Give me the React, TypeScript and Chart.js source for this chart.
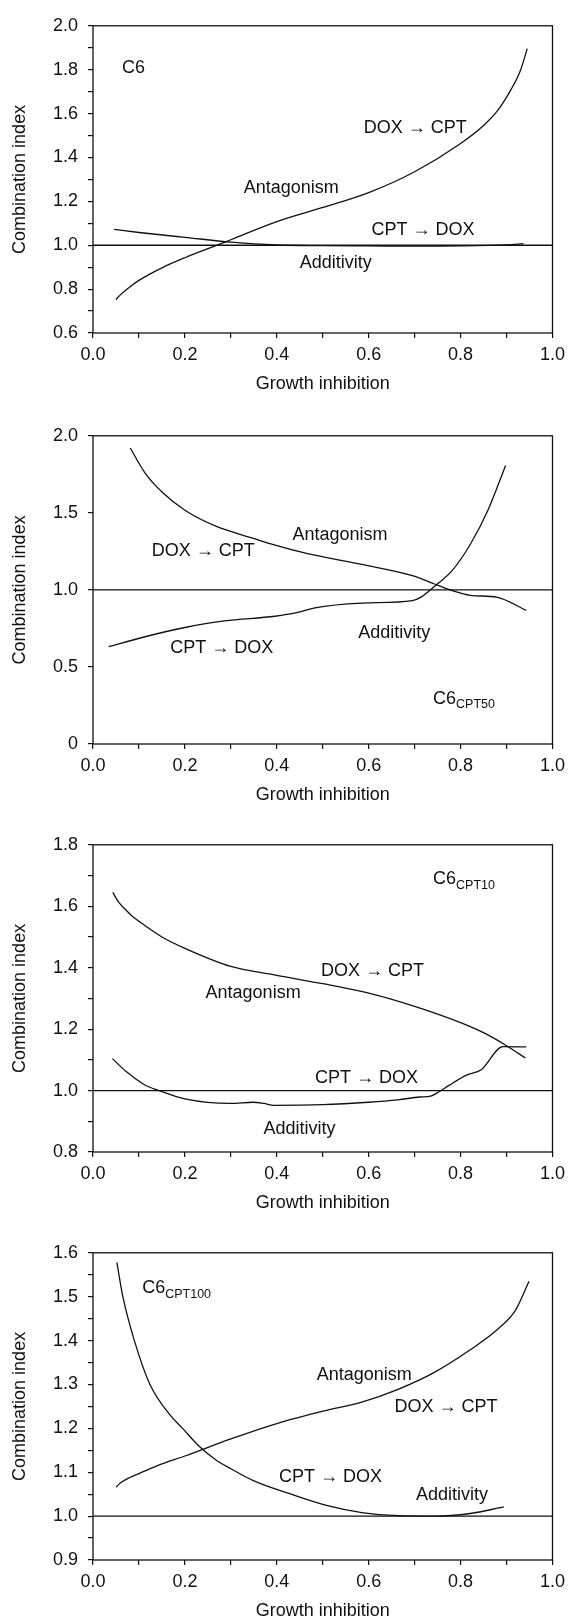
import React, { useEffect, useRef } from "react";
import { Chart, registerables } from "chart.js";

Chart.register(...registerables);

// ---------- shared axis data ----------
const X_TICK_LABELS = ["0.0", "0.2", "0.4", "0.6", "0.8", "1.0"];
const X_MIN = 0;
const X_MAX = 1;
const X_MINOR_STEP = 0.1;
const ADDITIVITY_X = [0, 1];
const ADDITIVITY_Y = 1;

// ---------- panel 1 : C6 ----------
const P1_Y_TICK_LABELS = ["0.6", "0.8", "1.0", "1.2", "1.4", "1.6", "1.8", "2.0"];
const P1_DOX_CPT_X = [0.05, 0.06, 0.08, 0.1, 0.15, 0.2, 0.27, 0.3, 0.4, 0.5, 0.6, 0.7, 0.8, 0.85, 0.88, 0.91, 0.93, 0.945];
const P1_DOX_CPT_Y = [0.753, 0.775, 0.81, 0.84, 0.897, 0.943, 1.0, 1.025, 1.108, 1.172, 1.24, 1.335, 1.464, 1.546, 1.612, 1.71, 1.795, 1.896];
const P1_CPT_DOX_X = [0.046, 0.1, 0.2, 0.3, 0.4, 0.5, 0.6, 0.7, 0.8, 0.9, 0.937];
const P1_CPT_DOX_Y = [1.072, 1.058, 1.036, 1.014, 1.001, 0.998, 0.997, 0.996, 0.997, 1.002, 1.007];

// ---------- panel 2 : C6 CPT50 ----------
const P2_Y_TICK_LABELS = ["0", "0.5", "1.0", "1.5", "2.0"];
const P2_DOX_CPT_X = [0.081, 0.113, 0.152, 0.2, 0.27, 0.349, 0.385, 0.467, 0.585, 0.695, 0.742, 0.782, 0.821, 0.88, 0.943];
const P2_DOX_CPT_Y = [1.921, 1.76, 1.63, 1.517, 1.41, 1.335, 1.3, 1.235, 1.165, 1.093, 1.04, 0.995, 0.965, 0.952, 0.867];
const P2_CPT_DOX_X = [0.034, 0.113, 0.2, 0.286, 0.396, 0.443, 0.483, 0.585, 0.695, 0.715, 0.73, 0.75, 0.78, 0.82, 0.86, 0.898];
const P2_CPT_DOX_Y = [0.632, 0.696, 0.756, 0.799, 0.829, 0.852, 0.884, 0.914, 0.931, 0.955, 0.99, 1.04, 1.12, 1.29, 1.52, 1.808];

// ---------- panel 3 : C6 CPT10 ----------
const P3_Y_TICK_LABELS = ["0.8", "1.0", "1.2", "1.4", "1.6", "1.8"];
const P3_DOX_CPT_X = [0.043, 0.055, 0.07, 0.085, 0.1, 0.15, 0.2, 0.3, 0.4, 0.5, 0.6, 0.7, 0.8, 0.853, 0.9, 0.941];
const P3_DOX_CPT_Y = [1.645, 1.615, 1.59, 1.568, 1.551, 1.5, 1.463, 1.404, 1.375, 1.348, 1.317, 1.274, 1.221, 1.186, 1.146, 1.106];
const P3_CPT_DOX_X = [0.042, 0.073, 0.113, 0.144, 0.2, 0.3, 0.349, 0.372, 0.394, 0.5, 0.6, 0.664, 0.711, 0.735, 0.754, 0.774, 0.813, 0.845, 0.892, 0.943];
const P3_CPT_DOX_Y = [1.104, 1.061, 1.018, 1.0, 0.973, 0.958, 0.962, 0.958, 0.952, 0.954, 0.962, 0.97, 0.979, 0.982, 0.997, 1.016, 1.05, 1.068, 1.143, 1.142];

// ---------- panel 4 : C6 CPT100 ----------
const P4_Y_TICK_LABELS = ["0.9", "1.0", "1.1", "1.2", "1.3", "1.4", "1.5", "1.6"];
const P4_DOX_CPT_X = [0.05, 0.06, 0.08, 0.1, 0.12, 0.15, 0.2, 0.3, 0.4, 0.5, 0.585, 0.664, 0.742, 0.821, 0.88, 0.92, 0.949];
const P4_DOX_CPT_Y = [1.066, 1.076, 1.088, 1.097, 1.106, 1.119, 1.137, 1.176, 1.211, 1.239, 1.26, 1.289, 1.327, 1.379, 1.425, 1.47, 1.535];
const P4_CPT_DOX_X = [0.052, 0.065, 0.09, 0.124, 0.168, 0.195, 0.231, 0.27, 0.3, 0.349, 0.428, 0.506, 0.585, 0.664, 0.743, 0.821, 0.894];
const P4_CPT_DOX_Y = [1.578, 1.5, 1.4, 1.3, 1.23, 1.2, 1.159, 1.126, 1.108, 1.081, 1.051, 1.025, 1.008, 1.001, 1.0, 1.006, 1.021];

// ---------- text ----------
const X_TITLE = "Growth inhibition";
const Y_TITLE = "Combination index";
const DOX_CPT = "DOX \u2192 CPT";
const CPT_DOX = "CPT \u2192 DOX";
const ANTAGONISM = "Antagonism";
const ADDITIVITY = "Additivity";

type Label = { text: string; sub?: string; x: number; y: number };

const P1_LABELS: Label[] = [
  { text: "C6", x: 0.063, y: 1.806 },
  { text: DOX_CPT, x: 0.589, y: 1.535 },
  { text: ANTAGONISM, x: 0.328, y: 1.26 },
  { text: CPT_DOX, x: 0.606, y: 1.069 },
  { text: ADDITIVITY, x: 0.45, y: 0.917 },
];
const P2_LABELS: Label[] = [
  { text: ANTAGONISM, x: 0.434, y: 1.357 },
  { text: DOX_CPT, x: 0.128, y: 1.255 },
  { text: ADDITIVITY, x: 0.577, y: 0.722 },
  { text: CPT_DOX, x: 0.168, y: 0.622 },
  { text: "C6", sub: "CPT50", x: 0.74, y: 0.292 },
];
const P3_LABELS: Label[] = [
  { text: "C6", sub: "CPT10", x: 0.74, y: 1.687 },
  { text: DOX_CPT, x: 0.496, y: 1.388 },
  { text: ANTAGONISM, x: 0.245, y: 1.319 },
  { text: CPT_DOX, x: 0.483, y: 1.042 },
  { text: ADDITIVITY, x: 0.371, y: 0.875 },
];
const P4_LABELS: Label[] = [
  { text: "C6", sub: "CPT100", x: 0.107, y: 1.519 },
  { text: ANTAGONISM, x: 0.487, y: 1.321 },
  { text: DOX_CPT, x: 0.656, y: 1.248 },
  { text: CPT_DOX, x: 0.405, y: 1.088 },
  { text: ADDITIVITY, x: 0.703, y: 1.049 },
];

// ---------- layout / style ----------
const PAGE_W = 571;
const PAGE_H = 1621;
const PLOT_LEFT = 93;
const PLOT_RIGHT = 556;
const PAD_TOP = 15;
const X_AXIS_H = 66;
const FONT_FAMILY = '"Liberation Sans", Arial, Helvetica, sans-serif';
const FONT_SIZE = 18;
const SUB_SIZE = 12.5;
const INK = "#111";

type PanelSpec = {
  plotTop: number;
  plotH: number;
  yMin: number;
  yMax: number;
  yStep: number;
  yLabels: string[];
  series: { x: number[]; y: number[] }[];
  labels: Label[];
};

const PANELS: PanelSpec[] = [
  {
    plotTop: 20, plotH: 313, yMin: 0.6, yMax: 2.0, yStep: 0.1, yLabels: P1_Y_TICK_LABELS,
    series: [{ x: P1_DOX_CPT_X, y: P1_DOX_CPT_Y }, { x: P1_CPT_DOX_X, y: P1_CPT_DOX_Y }],
    labels: P1_LABELS,
  },
  {
    plotTop: 430, plotH: 314, yMin: 0, yMax: 2.0, yStep: 0.5, yLabels: P2_Y_TICK_LABELS,
    series: [{ x: P2_DOX_CPT_X, y: P2_DOX_CPT_Y }, { x: P2_CPT_DOX_X, y: P2_CPT_DOX_Y }],
    labels: P2_LABELS,
  },
  {
    plotTop: 839, plotH: 313, yMin: 0.8, yMax: 1.8, yStep: 0.1, yLabels: P3_Y_TICK_LABELS,
    series: [{ x: P3_DOX_CPT_X, y: P3_DOX_CPT_Y }, { x: P3_CPT_DOX_X, y: P3_CPT_DOX_Y }],
    labels: P3_LABELS,
  },
  {
    plotTop: 1247, plotH: 313, yMin: 0.9, yMax: 1.6, yStep: 0.05, yLabels: P4_Y_TICK_LABELS,
    series: [{ x: P4_DOX_CPT_X, y: P4_DOX_CPT_Y }, { x: P4_CPT_DOX_X, y: P4_CPT_DOX_Y }],
    labels: P4_LABELS,
  },
];

function stepValues(min: number, max: number, step: number): number[] {
  const out: number[] = [];
  const n = Math.round((max - min) / step);
  for (let i = 0; i <= n; i++) out.push(Math.round((min + i * step) * 1e6) / 1e6);
  return out;
}

function labelFor(v: number, labels: string[]): string {
  const hit = labels.find((l) => Math.abs(parseFloat(l) - v) < 1e-6);
  return hit === undefined ? "" : hit;
}

const font = (size: number) => `${size}px ${FONT_FAMILY}`;

function Panel({ spec }: { spec: PanelSpec }) {
  const ref = useRef<HTMLCanvasElement | null>(null);
  const canvasTop = spec.plotTop - PAD_TOP;
  const canvasH = PAD_TOP + spec.plotH + X_AXIS_H;

  useEffect(() => {
    const canvas = ref.current;
    if (!canvas) return;

    const datasets: any[] = [
      {
        data: ADDITIVITY_X.map((x) => ({ x, y: ADDITIVITY_Y })),
        borderColor: INK,
        borderWidth: 1.3,
        pointRadius: 0,
        tension: 0,
      },
      ...spec.series.map((s) => ({
        data: s.x.map((x, i) => ({ x, y: s.y[i] })),
        borderColor: INK,
        borderWidth: 1.3,
        pointRadius: 0,
        cubicInterpolationMode: "monotone",
      })),
    ];

    const decor = {
      id: "decor",
      afterDatasetsDraw(chart: any) {
        const { ctx, chartArea, scales } = chart;
        const { left, right, top, bottom } = chartArea;
        ctx.save();
        ctx.strokeStyle = INK;
        ctx.lineWidth = 1.3;
        ctx.strokeRect(left, top, right - left, bottom - top);

        ctx.fillStyle = INK;
        ctx.textBaseline = "middle";
        for (const lab of spec.labels) {
          const px = scales.x.getPixelForValue(lab.x);
          const py = scales.y.getPixelForValue(lab.y);
          ctx.font = font(FONT_SIZE);
          ctx.textAlign = "left";
          ctx.fillText(lab.text, px, py);
          if (lab.sub) {
            const w = ctx.measureText(lab.text).width;
            ctx.font = font(SUB_SIZE);
            ctx.fillText(lab.sub, px + w, py + 6);
          }
        }

        ctx.font = font(FONT_SIZE);
        ctx.textAlign = "center";
        ctx.fillText(X_TITLE, (left + right) / 2, bottom + 51);

        ctx.translate(20, (top + bottom) / 2);
        ctx.rotate(-Math.PI / 2);
        ctx.fillText(Y_TITLE, 0, 0);
        ctx.restore();
      },
    };

    const chart = new Chart(canvas, {
      type: "line",
      data: { datasets },
      plugins: [decor],
      options: {
        animation: false,
        responsive: false,
        devicePixelRatio: 1,
        layout: { padding: { left: 0, right: PAGE_W - PLOT_RIGHT, top: PAD_TOP, bottom: 0 } },
        plugins: { legend: { display: false }, tooltip: { enabled: false }, title: { display: false } },
        scales: {
          x: {
            type: "linear",
            min: X_MIN,
            max: X_MAX,
            afterBuildTicks: (s: any) => {
              s.ticks = stepValues(X_MIN, X_MAX, X_MINOR_STEP).map((value) => ({ value }));
            },
            afterFit: (s: any) => {
              s.height = X_AXIS_H;
            },
            ticks: {
              autoSkip: false,
              maxRotation: 0,
              minRotation: 0,
              padding: 6,
              color: INK,
              font: { family: FONT_FAMILY, size: FONT_SIZE },
              callback: (v: any) => labelFor(Number(v), X_TICK_LABELS),
            },
            grid: { drawOnChartArea: false, drawTicks: true, tickLength: 5, color: INK, lineWidth: 1.2 },
            border: { display: false },
          },
          y: {
            type: "linear",
            min: spec.yMin,
            max: spec.yMax,
            afterBuildTicks: (s: any) => {
              s.ticks = stepValues(spec.yMin, spec.yMax, spec.yStep).map((value) => ({ value }));
            },
            afterFit: (s: any) => {
              s.width = PLOT_LEFT;
            },
            ticks: {
              autoSkip: false,
              padding: 10,
              color: INK,
              font: { family: FONT_FAMILY, size: FONT_SIZE },
              callback: (v: any) => labelFor(Number(v), spec.yLabels),
            },
            grid: { drawOnChartArea: false, drawTicks: true, tickLength: 5, color: INK, lineWidth: 1.2 },
            border: { display: false },
          },
        },
      } as any,
    });
    return () => chart.destroy();
  }, [spec]);

  return (
    <canvas
      ref={ref}
      width={PAGE_W}
      height={canvasH}
      style={{ position: "absolute", left: 0, top: canvasTop, width: PAGE_W, height: canvasH }}
    />
  );
}

export default function App() {
  return (
    <div
      style={{
        position: "absolute",
        left: 0,
        top: 0,
        width: PAGE_W,
        height: PAGE_H,
        overflow: "hidden",
        background: "#fff",
      }}
    >
      {PANELS.map((p, i) => (
        <Panel key={i} spec={p} />
      ))}
    </div>
  );
}
